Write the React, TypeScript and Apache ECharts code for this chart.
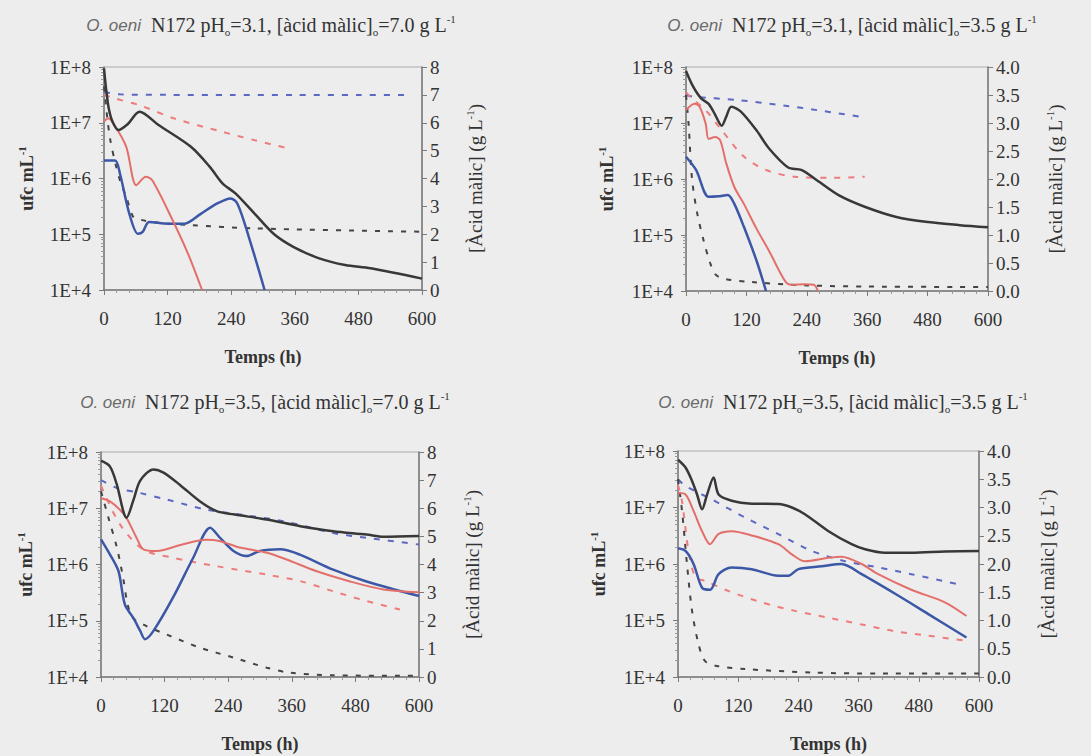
import React, { useEffect, useRef } from 'react';
import * as echarts from 'echarts';

type Pt = [number, number];

const SERIF = 'Liberation Serif';
const SANS = 'Liberation Sans';

// ---- Panel 1: pH 3.1, malic 7.0 ----
const p1Total: Pt[] = [[0,9.5e7],[4,4e7],[9,1.8e7],[16,1.05e7],[27,7.4e6],[45,9.5e6],[67,1.58e7],[103,9.1e6],[164,3.7e6],[200,1.6e6],[224,8.1e5],[248,5.4e5],[285,2.3e5],[321,1.0e5],[358,5.9e4],[406,3.7e4],[455,2.8e4],[503,2.45e4],[600,1.6e4]];
const p1Red: Pt[] = [[0,1.05e7],[8,1.2e7],[20,9e6],[42,3.7e6],[61,7.6e5],[79,1.07e6],[91,9.3e5],[127,2.0e5],[158,4.6e4],[185,1.0e4]];
const p1Blue: Pt[] = [[0,2.1e6],[21,2.1e6],[30,1.23e6],[48,2.3e5],[64,1.02e5],[73,1.1e5],[85,1.66e5],[121,1.55e5],[152,1.55e5],[182,2.3e5],[212,3.5e5],[239,4.4e5],[252,3.5e5],[273,9.1e4],[303,1.0e4]];
const p1AcidBlue: Pt[] = [[0,7.1],[30,7.02],[120,7.0],[240,7.0],[360,7.0],[480,7.0],[570,7.0]];
const p1AcidRed: Pt[] = [[0,7.0],[21,6.87],[67,6.63],[133,6.15],[224,5.67],[285,5.37],[350,5.07]];
const p1AcidBlack: Pt[] = [[0,7.3],[6,6.2],[12,5.37],[22,4.5],[30,3.94],[42,3.34],[55,2.63],[67,2.53],[103,2.41],[164,2.33],[285,2.21],[600,2.09]];

// ---- Panel 2: pH 3.1, malic 3.5 ----
const p2Total: Pt[] = [[0,8.5e7],[14,4.5e7],[30,2.75e7],[45,2.2e7],[58,1.4e7],[71,8.9e6],[80,1.3e7],[90,1.95e7],[109,1.6e7],[140,7.4e6],[165,3.5e6],[203,1.6e6],[229,1.45e6],[260,9.5e5],[304,5.1e5],[355,3.2e5],[418,2.1e5],[481,1.7e5],[544,1.5e5],[600,1.38e5]];
const p2Red: Pt[] = [[0,1.7e7],[17,2.2e7],[27,1.95e7],[39,9.8e6],[45,5.2e6],[58,5.6e6],[68,4.9e6],[80,1.9e6],[96,7.2e5],[115,3.6e5],[140,1.3e5],[165,5.2e4],[197,1.5e4],[210,1.29e4],[235,1.32e4],[254,1.29e4],[262,1.0e4]];
const p2Blue: Pt[] = [[0,2.5e6],[20,1.45e6],[45,4.8e5],[64,4.9e5],[83,5.2e5],[96,3.6e5],[115,1.4e5],[140,3.5e4],[159,1.0e4]];
const p2AcidBlue: Pt[] = [[0,3.5],[14,3.47],[102,3.41],[197,3.31],[260,3.23],[355,3.10]];
const p2AcidRed: Pt[] = [[0,3.55],[10,3.45],[39,3.23],[71,2.87],[115,2.40],[159,2.16],[216,2.04],[292,2.02],[355,2.04]];
const p2AcidBlack: Pt[] = [[0,3.5],[5,3.0],[12,2.0],[22,1.4],[35,0.9],[48,0.5],[58,0.3],[75,0.22],[130,0.16],[240,0.1],[360,0.08],[600,0.07]];

// ---- Panel 3: pH 3.5, malic 7.0 ----
const p3Total: Pt[] = [[0,7e7],[17,5.5e7],[30,2.6e7],[42,8.9e6],[48,6.8e6],[61,1.38e7],[74,3.1e7],[99,4.9e7],[118,4.3e7],[149,2.6e7],[187,1.32e7],[218,8.9e6],[250,7.8e6],[313,6.3e6],[376,4.8e6],[438,3.9e6],[501,3.4e6],[533,3.1e6],[600,3.2e6]];
const p3Red: Pt[] = [[0,1.5e7],[17,1.32e7],[36,9.3e6],[48,6.8e6],[67,3.0e6],[80,1.86e6],[105,1.74e6],[155,2.3e6],[199,2.75e6],[225,2.6e6],[262,2.0e6],[313,1.62e6],[350,1.23e6],[407,7.6e5],[470,5.0e5],[533,3.6e5],[600,3.2e5]];
const p3Blue: Pt[] = [[0,2.8e6],[17,1.5e6],[33,7.6e5],[45,1.95e5],[61,1.12e5],[74,6.6e4],[83,4.7e4],[99,6.6e4],[136,2.6e5],[174,1.32e6],[206,4.5e6],[225,2.95e6],[250,1.74e6],[275,1.41e6],[300,1.74e6],[338,1.86e6],[375,1.5e6],[438,8.1e5],[501,5.0e5],[600,2.75e5]];
const p3AcidBlue: Pt[] = [[0,7.0],[30,6.72],[74,6.54],[124,6.31],[199,5.95],[262,5.78],[344,5.54],[438,5.12],[501,4.95],[600,4.71]];
const p3AcidRed: Pt[] = [[0,6.8],[36,5.42],[80,4.53],[136,4.24],[218,3.94],[313,3.64],[376,3.41],[438,3.05],[501,2.70],[564,2.40]];
const p3AcidBlack: Pt[] = [[0,6.6],[15,5.6],[30,4.6],[42,3.5],[50,2.6],[60,2.1],[86,1.81],[124,1.51],[187,1.04],[250,0.69],[313,0.33],[357,0.15],[438,0.06],[600,0.04]];

// ---- Panel 4: pH 3.5, malic 3.5 ----
const p4Total: Pt[] = [[0,7e7],[15,5.1e7],[28,2.95e7],[38,1.7e7],[48,9.3e6],[58,1.7e7],[71,3.4e7],[81,1.7e7],[107,1.32e7],[147,1.17e7],[200,1.15e7],[227,1.0e7],[253,7.6e6],[300,3.8e6],[346,2.24e6],[373,1.82e6],[412,1.58e6],[465,1.58e6],[532,1.66e6],[600,1.7e6]];
const p4Red: Pt[] = [[0,1.8e7],[15,1.7e7],[31,8.7e6],[48,3.8e6],[64,2.24e6],[81,3.4e6],[107,3.8e6],[147,3.2e6],[200,2.24e6],[227,1.48e6],[253,1.12e6],[300,1.29e6],[326,1.35e6],[366,1.0e6],[399,6.6e5],[465,3.5e5],[532,2.1e5],[575,1.2e5]];
const p4Blue: Pt[] = [[0,1.9e6],[15,1.7e6],[31,1.0e6],[48,3.8e5],[64,3.5e5],[81,6.6e5],[107,8.7e5],[147,8.1e5],[200,6.2e5],[220,6.2e5],[240,8.1e5],[286,9.1e5],[326,1.0e6],[366,6.6e5],[432,3.0e5],[499,1.3e5],[575,5.0e4]];
const p4AcidBlue: Pt[] = [[0,3.5],[15,3.38],[68,3.14],[134,2.82],[200,2.53],[267,2.23],[333,2.05],[399,1.94],[465,1.82],[565,1.63]];
const p4AcidRed: Pt[] = [[0,3.4],[8,3.11],[21,2.23],[35,1.76],[54,1.70],[101,1.52],[167,1.32],[233,1.17],[300,1.05],[366,0.93],[432,0.81],[499,0.73],[575,0.64]];
const p4AcidBlack: Pt[] = [[0,3.5],[8,2.94],[18,1.99],[28,1.17],[41,0.58],[54,0.28],[81,0.19],[134,0.14],[267,0.08],[399,0.06],[600,0.06]];

const phValues = ['3.1', '3.1', '3.5', '3.5'];
const malicValues = ['7.0', '3.5', '7.0', '3.5'];
const acidMax = [8, 4, 8, 4];
const acidStep = [1, 0.5, 1, 0.5];
const timeMax = 600;
const timeStep = 120;
const ufcMin = 1e4;
const ufcMax = 1e8;

const panelData = [
  { total: p1Total, red: p1Red, blue: p1Blue, aBlue: p1AcidBlue, aRed: p1AcidRed, aBlack: p1AcidBlack },
  { total: p2Total, red: p2Red, blue: p2Blue, aBlue: p2AcidBlue, aRed: p2AcidRed, aBlack: p2AcidBlack },
  { total: p3Total, red: p3Red, blue: p3Blue, aBlue: p3AcidBlue, aRed: p3AcidRed, aBlack: p3AcidBlack },
  { total: p4Total, red: p4Red, blue: p4Blue, aBlue: p4AcidBlue, aRed: p4AcidRed, aBlack: p4AcidBlack },
];

// layout (pixels)
const grids = [
  { left: 104, top: 67, width: 318, height: 223 },
  { left: 686, top: 67, width: 302, height: 224 },
  { left: 101, top: 452, width: 318, height: 225 },
  { left: 678, top: 451, width: 301, height: 226 },
];
const titlePos = [[271, 25], [852, 25], [265, 402], [843, 402]];
const leftNameGap = [66, 68, 64, 68];
const rightNameGap = [42, 56, 42, 57];

const TXT = '#333';
const AX = '#7a7a7a';

const supRich = {
  n: { fontFamily: SERIF, fontSize: 18, color: TXT, fontWeight: 'bold', lineHeight: 22 },
  sup: { fontFamily: SERIF, fontSize: 11, color: TXT, fontWeight: 'bold', verticalAlign: 'top', lineHeight: 12 },
};
const supRichR = {
  n: { fontFamily: SERIF, fontSize: 19, color: TXT, lineHeight: 22 },
  sup: { fontFamily: SERIF, fontSize: 11, color: TXT, verticalAlign: 'top', lineHeight: 12 },
};

export default function App() {
  const ref = useRef<HTMLDivElement>(null);
  useEffect(() => {
    if (!ref.current) return;
    const chart = echarts.init(ref.current, undefined, { renderer: 'svg' });

    const xAxis: any[] = [];
    const yAxis: any[] = [];
    const series: any[] = [];
    const graphic: any[] = [];

    grids.forEach((g, i) => {
      xAxis.push({
        type: 'value', gridIndex: i, min: 0, max: timeMax, interval: timeStep,
        name: 'Temps (h)', nameLocation: 'middle', nameGap: 58,
        nameTextStyle: { fontFamily: SERIF, fontSize: 18, fontWeight: 'bold', color: TXT },
        axisLine: { lineStyle: { color: AX, width: 1.5 } },
        axisTick: { show: true, length: 5, lineStyle: { color: AX } },
        minorTick: { show: true, splitNumber: 5, length: 3, lineStyle: { color: '#999' } },
        axisLabel: { fontFamily: SERIF, fontSize: 19, color: TXT, margin: 19 },
        splitLine: { show: false },
      });
      yAxis.push({
        type: 'log', gridIndex: i, logBase: 10, min: ufcMin, max: ufcMax, position: 'left',
        name: '{n|ufc mL}{sup|-1}', nameLocation: 'middle', nameGap: leftNameGap[i], nameRotate: 90,
        nameTextStyle: { rich: supRich },
        axisLine: { show: true, lineStyle: { color: AX, width: 1.5 } },
        axisTick: { show: true, length: 5, lineStyle: { color: AX } },
        minorTick: { show: true, splitNumber: 9, length: 3, lineStyle: { color: '#999' } },
        axisLabel: {
          fontFamily: SERIF, fontSize: 19, color: TXT, margin: 13,
          formatter: (v: number) => '1E+' + Math.round(Math.log10(v)),
        },
        splitLine: { show: false },
      });
      yAxis.push({
        type: 'value', gridIndex: i, min: 0, max: acidMax[i], interval: acidStep[i], position: 'right',
        name: '{n|[Àcid màlic] (g L}{sup|-1}{n|)}', nameLocation: 'middle', nameGap: rightNameGap[i], nameRotate: 90,
        nameTextStyle: { rich: supRichR },
        axisLine: { show: true, lineStyle: { color: AX, width: 1.5 } },
        axisTick: { show: true, length: 5, lineStyle: { color: AX } },
        axisLabel: {
          fontFamily: SERIF, fontSize: 19, color: TXT, margin: 8,
          formatter: (v: number) => (acidStep[i] < 1 ? v.toFixed(1) : String(v)),
        },
        splitLine: { show: false },
      });

      const d = panelData[i];
      const solid = (data: Pt[], color: string, width: number) => ({
        type: 'line', xAxisIndex: i, yAxisIndex: i * 2, data, smooth: 0.3, showSymbol: false,
        symbol: 'none', clip: true, lineStyle: { color, width }, z: 3,
      });
      const dashed = (data: Pt[], color: string, dash: number[]) => ({
        type: 'line', xAxisIndex: i, yAxisIndex: i * 2 + 1, data, smooth: 0.3, showSymbol: false,
        symbol: 'none', clip: true, lineStyle: { color, width: 2, type: dash }, z: 2,
      });
      series.push(dashed(d.aBlue, '#5b69c2', [6, 8]));
      series.push(dashed(d.aRed, '#ee7c7c', [6, 8]));
      series.push(dashed(d.aBlack, '#444', [5, 8]));
      series.push(solid(d.blue, '#3c57a6', 2.5));
      series.push(solid(d.red, '#e36f6b', 2));
      series.push(solid(d.total, '#383838', 2.5));

      const [tx, ty] = titlePos[i];
      graphic.push({
        type: 'text', x: tx, y: ty,
        style: {
          text: `{i|O. oeni}{n|  N172 pH}{sub|o}{n|=${phValues[i]}, [àcid màlic]}{sub|o}{n|=${malicValues[i]} g L}{sup|-1}`,
          align: 'center', verticalAlign: 'middle',
          rich: {
            i: { fontFamily: SANS, fontStyle: 'italic', fontSize: 17, fill: '#6a6a6a', lineHeight: 24 },
            n: { fontFamily: SERIF, fontSize: 20, fill: TXT, lineHeight: 24 },
            sub: { fontFamily: SERIF, fontSize: 11, fill: TXT, verticalAlign: 'bottom', lineHeight: 13 },
            sup: { fontFamily: SERIF, fontSize: 11, fill: TXT, verticalAlign: 'top', lineHeight: 13 },
          },
        },
      });
    });

    chart.setOption({
      animation: false,
      backgroundColor: '#ededed',
      textStyle: { fontFamily: SERIF },
      grid: grids.map((g) => ({ ...g, show: true, borderColor: '#aaa', borderWidth: 1, backgroundColor: 'transparent' })),
      xAxis,
      yAxis,
      series,
      graphic,
    });
    return () => chart.dispose();
  }, []);

  return <div ref={ref} style={{ position: 'fixed', left: 0, top: 0, width: 1091, height: 756 }} />;
}
